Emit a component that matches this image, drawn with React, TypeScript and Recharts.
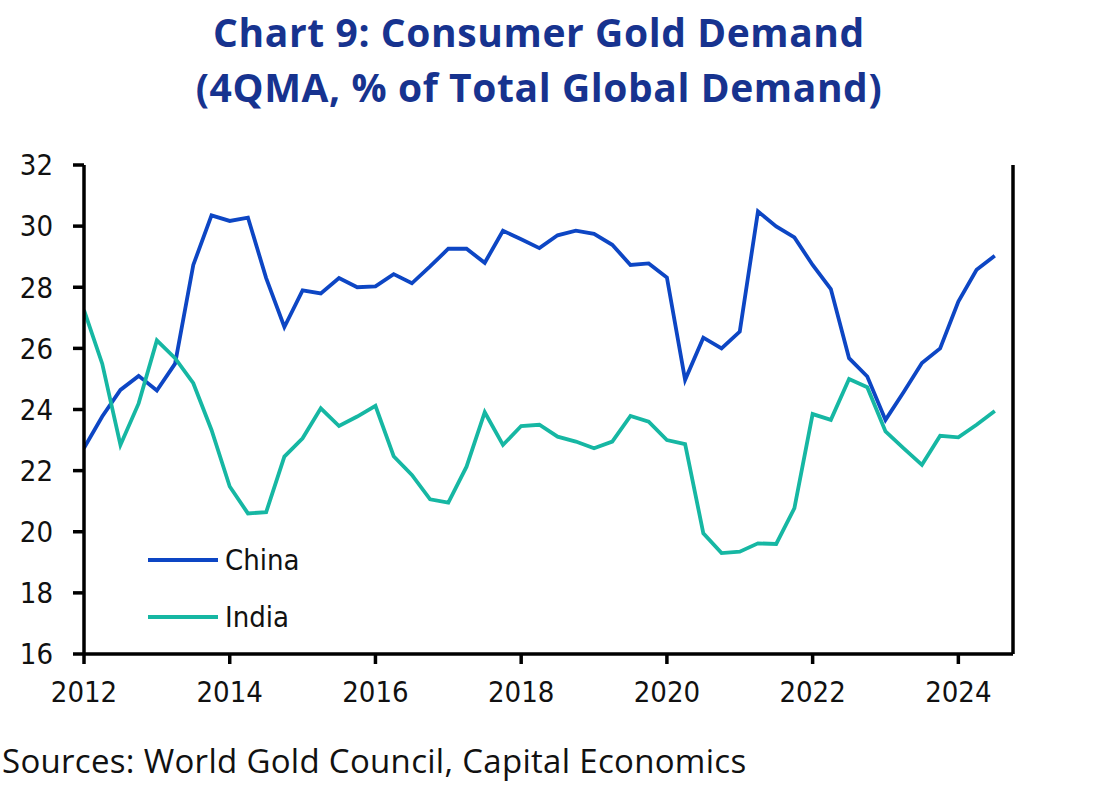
import React from 'react';
import { LineChart, Line, XAxis, YAxis, Legend } from 'recharts';

const quarters: string[] = [
  '2012Q1', '2012Q2', '2012Q3', '2012Q4',
  '2013Q1', '2013Q2', '2013Q3', '2013Q4',
  '2014Q1', '2014Q2', '2014Q3', '2014Q4',
  '2015Q1', '2015Q2', '2015Q3', '2015Q4',
  '2016Q1', '2016Q2', '2016Q3', '2016Q4',
  '2017Q1', '2017Q2', '2017Q3', '2017Q4',
  '2018Q1', '2018Q2', '2018Q3', '2018Q4',
  '2019Q1', '2019Q2', '2019Q3', '2019Q4',
  '2020Q1', '2020Q2', '2020Q3', '2020Q4',
  '2021Q1', '2021Q2', '2021Q3', '2021Q4',
  '2022Q1', '2022Q2', '2022Q3', '2022Q4',
  '2023Q1', '2023Q2', '2023Q3', '2023Q4',
  '2024Q1', '2024Q2', '2024Q3',
];

const china: number[] = [
  22.74, 23.77, 24.64, 25.1,
  24.62, 25.5, 28.73, 30.35,
  30.17, 30.28, 28.3, 26.7,
  27.9, 27.8, 28.3, 28.0,
  28.03, 28.43, 28.13, 28.68,
  29.26, 29.26, 28.8, 29.85,
  29.57, 29.28, 29.7, 29.85,
  29.75, 29.39, 28.73, 28.78,
  28.32, 24.97, 26.35, 26.0,
  26.55, 30.48, 29.99, 29.63,
  28.73, 27.94, 25.68, 25.08,
  23.66, 24.57, 25.52, 26.0,
  27.53, 28.57, 29.03,
];

const india: number[] = [
  27.25, 25.5, 22.84, 24.2,
  26.26, 25.68, 24.86, 23.33,
  21.48, 20.6, 20.64, 22.46,
  23.06, 24.04, 23.46, 23.77,
  24.12, 22.47, 21.86, 21.06,
  20.95, 22.13, 23.91, 22.84,
  23.46, 23.5, 23.11, 22.95,
  22.73, 22.95, 23.79, 23.6,
  23.0, 22.87, 19.95, 19.3,
  19.35, 19.62, 19.6, 20.77,
  23.85, 23.66, 25.0, 24.73,
  23.28, 22.73, 22.19, 23.14,
  23.09, 23.5, 23.95,
];

const yearTicks: number[] = [2012, 2014, 2016, 2018, 2020, 2022, 2024];
const valueTicks: number[] = [16, 18, 20, 22, 24, 26, 28, 30, 32];

const CHINA_COLOR = '#0d46c4';
const INDIA_COLOR = '#16b7a3';
const TICK_FONT = "'DejaVu Sans Condensed', Roboto, sans-serif";
const TEXT_FONT = "'Open Sans', Lato, sans-serif";

const data = quarters.map((q, i) => ({
  t: Number(q.slice(0, 4)) + (Number(q.slice(5)) - 1) / 4,
  China: china[i],
  India: india[i],
}));

const tickStyle = { fill: '#111', fontSize: 29, fontFamily: TICK_FONT };

const LegendContent = (props: any) => {
  const payload = props.payload || [];
  return (
    <div style={{ display: 'flex', flexDirection: 'column' }}>
      {payload.map((p: any) => (
        <div key={p.value} style={{ display: 'flex', alignItems: 'center', height: 57 }}>
          <div style={{ width: 70, height: 4, background: p.color, marginRight: 7 }} />
          <span style={{ fontFamily: TICK_FONT, fontSize: 29, color: '#111' }}>{p.value}</span>
        </div>
      ))}
    </div>
  );
};

export default function App() {
  return (
    <div style={{ position: 'absolute', left: 0, top: 0, width: 1100, height: 786, background: '#fff' }}>
      <div
        style={{
          position: 'absolute',
          left: 0,
          top: 4,
          width: 1078,
          textAlign: 'center',
          fontFamily: TEXT_FONT,
          fontWeight: 700,
          fontSize: 39,
          letterSpacing: 0.6,
          lineHeight: '55px',
          color: '#17338f',
          whiteSpace: 'nowrap',
        }}
      >
        <div>Chart 9: Consumer Gold Demand</div>
        <div>(4QMA, % of Total Global Demand)</div>
      </div>
      <LineChart
        width={1100}
        height={786}
        data={data}
        margin={{ top: 165, right: 0, bottom: 72, left: 0 }}
      >
        <XAxis
          dataKey="t"
          type="number"
          domain={[2012, 2024.75]}
          ticks={yearTicks}
          allowDataOverflow
          height={60}
          axisLine={{ stroke: '#000', strokeWidth: 3.5 }}
          tickLine={{ stroke: '#000', strokeWidth: 3.5 }}
          tickSize={10}
          tickMargin={17}
          tick={tickStyle}
          interval={0}
        />
        <YAxis
          yAxisId="left"
          orientation="left"
          domain={[16, 32]}
          ticks={valueTicks}
          width={84}
          axisLine={{ stroke: '#000', strokeWidth: 3.5 }}
          tickLine={{ stroke: '#000', strokeWidth: 3.5 }}
          tickSize={11}
          tickMargin={20}
          tick={tickStyle}
          interval={0}
        />
        <YAxis
          yAxisId="right"
          orientation="right"
          domain={[16, 32]}
          ticks={valueTicks}
          width={87}
          axisLine={{ stroke: '#000', strokeWidth: 3.5 }}
          tickLine={{ stroke: '#000', strokeWidth: 3.5 }}
          tickSize={11}
          tickMargin={10}
          tick={tickStyle}
          interval={0}
        />
        <Legend
          content={<LegendContent />}
          layout="vertical"
          align="center"
          verticalAlign="middle"
          wrapperStyle={{ position: 'absolute', left: 148, top: 531, width: 200, height: 120 }}
        />
        <Line
          yAxisId="left"
          dataKey="China"
          stroke={CHINA_COLOR}
          strokeWidth={3.8}
          dot={false}
          isAnimationActive={false}
        />
        <Line
          yAxisId="left"
          dataKey="India"
          stroke={INDIA_COLOR}
          strokeWidth={3.8}
          dot={false}
          isAnimationActive={false}
        />
      </LineChart>
      <div
        style={{
          position: 'absolute',
          left: 2,
          top: 741,
          fontFamily: TEXT_FONT,
          fontSize: 33,
          letterSpacing: 0.3,
          lineHeight: '40px',
          color: '#111',
          whiteSpace: 'nowrap',
        }}
      >
        Sources: World Gold Council, Capital Economics
      </div>
    </div>
  );
}
